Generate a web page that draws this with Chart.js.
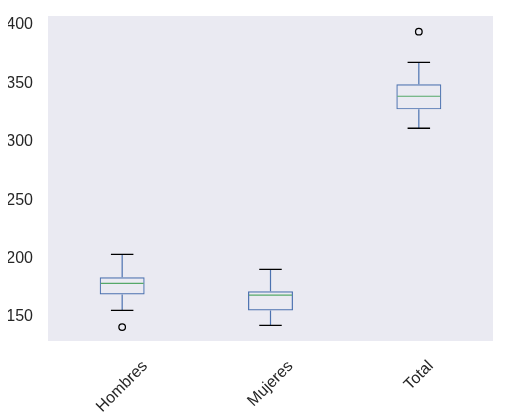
<!DOCTYPE html>
<html>
<head>
<meta charset="utf-8">
<script src="https://cdn.jsdelivr.net/npm/chart.js@4/dist/chart.umd.min.js"></script>
<style>
  html, body { margin: 0; padding: 0; background: #fff; }
  #wrap { width: 509px; height: 420px; }
</style>
</head>
<body>
<div id="wrap"><canvas id="c" width="509" height="420"></canvas></div>
<script>
// ── Datos ───────────────────────────────────────────────────────────────────
const categorias  = ['Hombres', 'Mujeres', 'Total'];
const bigoteBajo  = [155.7, 142.9, 311.6];
const cuartil1    = [169.4, 155.7, 327.8];
const mediana     = [178.8, 168.8, 339.0];
const cuartil3    = [184.0, 172.0, 349.2];
const bigoteAlto  = [203.7, 190.8, 368.0];
const atipicos    = [141.4, null, 394.3];
const ticksY      = [150, 200, 250, 300, 350, 400];

const AZUL  = '#4c72b0';
const VERDE = '#55a868';
const FONT  = '"Liberation Sans", Arial, sans-serif';

// ── Bigotes, topes y mediana ────────────────────────────────────────────────
const bigotesPlugin = {
  id: 'bigotes',
  afterDatasetsDraw(chart) {
    const { ctx, scales: { x, y } } = chart;
    const meta = chart.getDatasetMeta(0);
    ctx.save();
    categorias.forEach((_, i) => {
      const bar = meta.data[i];
      const cx = x.getPixelForValue(i);
      const half = bar.width / 2;
      const cap = half / 2;
      // bigotes
      ctx.strokeStyle = AZUL;
      ctx.lineWidth = 1.2;
      ctx.beginPath();
      ctx.moveTo(cx, y.getPixelForValue(cuartil3[i]));
      ctx.lineTo(cx, y.getPixelForValue(bigoteAlto[i]));
      ctx.moveTo(cx, y.getPixelForValue(cuartil1[i]));
      ctx.lineTo(cx, y.getPixelForValue(bigoteBajo[i]));
      ctx.stroke();
      // topes
      ctx.strokeStyle = '#000';
      ctx.lineWidth = 1.3;
      ctx.beginPath();
      [bigoteAlto[i], bigoteBajo[i]].forEach(v => {
        const py = y.getPixelForValue(v);
        ctx.moveTo(cx - cap, py);
        ctx.lineTo(cx + cap, py);
      });
      ctx.stroke();
      // mediana
      ctx.strokeStyle = VERDE;
      ctx.lineWidth = 1.2;
      ctx.beginPath();
      const pm = y.getPixelForValue(mediana[i]);
      ctx.moveTo(cx - half + 1, pm);
      ctx.lineTo(cx + half - 1, pm);
      ctx.stroke();
    });
    ctx.restore();
  }
};

// ── Fondo del área y etiquetas rotadas del eje X ────────────────────────────
const fondoPlugin = {
  id: 'fondo',
  beforeDraw(chart) {
    const { ctx, chartArea: a } = chart;
    ctx.save();
    ctx.fillStyle = '#eaeaf2';
    ctx.fillRect(a.left, a.top, a.right - a.left, a.bottom - a.top);
    ctx.restore();
  },
  afterDraw(chart) {
    const { ctx, chartArea: a, scales: { x } } = chart;
    ctx.save();
    ctx.font = '16px ' + FONT;
    ctx.fillStyle = '#262626';
    ctx.textAlign = 'center';
    ctx.textBaseline = 'middle';
    const s = Math.SQRT1_2;
    categorias.forEach((lab, i) => {
      const w = ctx.measureText(lab).width;
      const h = 16;
      const bh = (w + h) * s;
      const cx = x.getPixelForValue(i);
      const cy = a.bottom + 17 + bh / 2;
      ctx.save();
      ctx.translate(cx, cy);
      ctx.rotate(-Math.PI / 4);
      ctx.fillText(lab, 0, 0);
      ctx.restore();
    });
    ctx.restore();
  }
};

new Chart(document.getElementById('c'), {
  type: 'bar',
  data: {
    labels: categorias,
    datasets: [
      {
        label: 'caja',
        data: cuartil1.map((q, i) => [q, cuartil3[i]]),
        backgroundColor: 'transparent',
        borderColor: AZUL,
        borderWidth: 1.2,
        borderSkipped: false,
        barPercentage: 0.303,
        categoryPercentage: 1
      },
      {
        label: 'atípicos',
        type: 'line',
        data: atipicos,
        showLine: false,
        pointRadius: 3.3,
        pointBorderWidth: 1.3,
        pointBorderColor: '#000',
        pointBackgroundColor: 'transparent'
      }
    ]
  },
  options: {
    responsive: false,
    animation: false,
    layout: { padding: { left: 8, right: 16, top: 16, bottom: 79 } },
    plugins: { legend: { display: false }, tooltip: { enabled: false } },
    scales: {
      x: {
        display: false,
        offset: true,
        grid: { display: false }
      },
      y: {
        min: 129.5,
        max: 407.7,
        afterBuildTicks: sc => { sc.ticks = ticksY.map(v => ({ value: v })); },
        afterFit: sc => { sc.width = 40; sc.paddingTop = 0; sc.paddingBottom = 0; },
        grid: { display: false, drawTicks: false },
        border: { display: false },
        ticks: {
          padding: 15,
          color: '#262626',
          font: { size: 16, family: FONT }
        }
      }
    }
  },
  plugins: [fondoPlugin, bigotesPlugin]
});
</script>
</body>
</html>
